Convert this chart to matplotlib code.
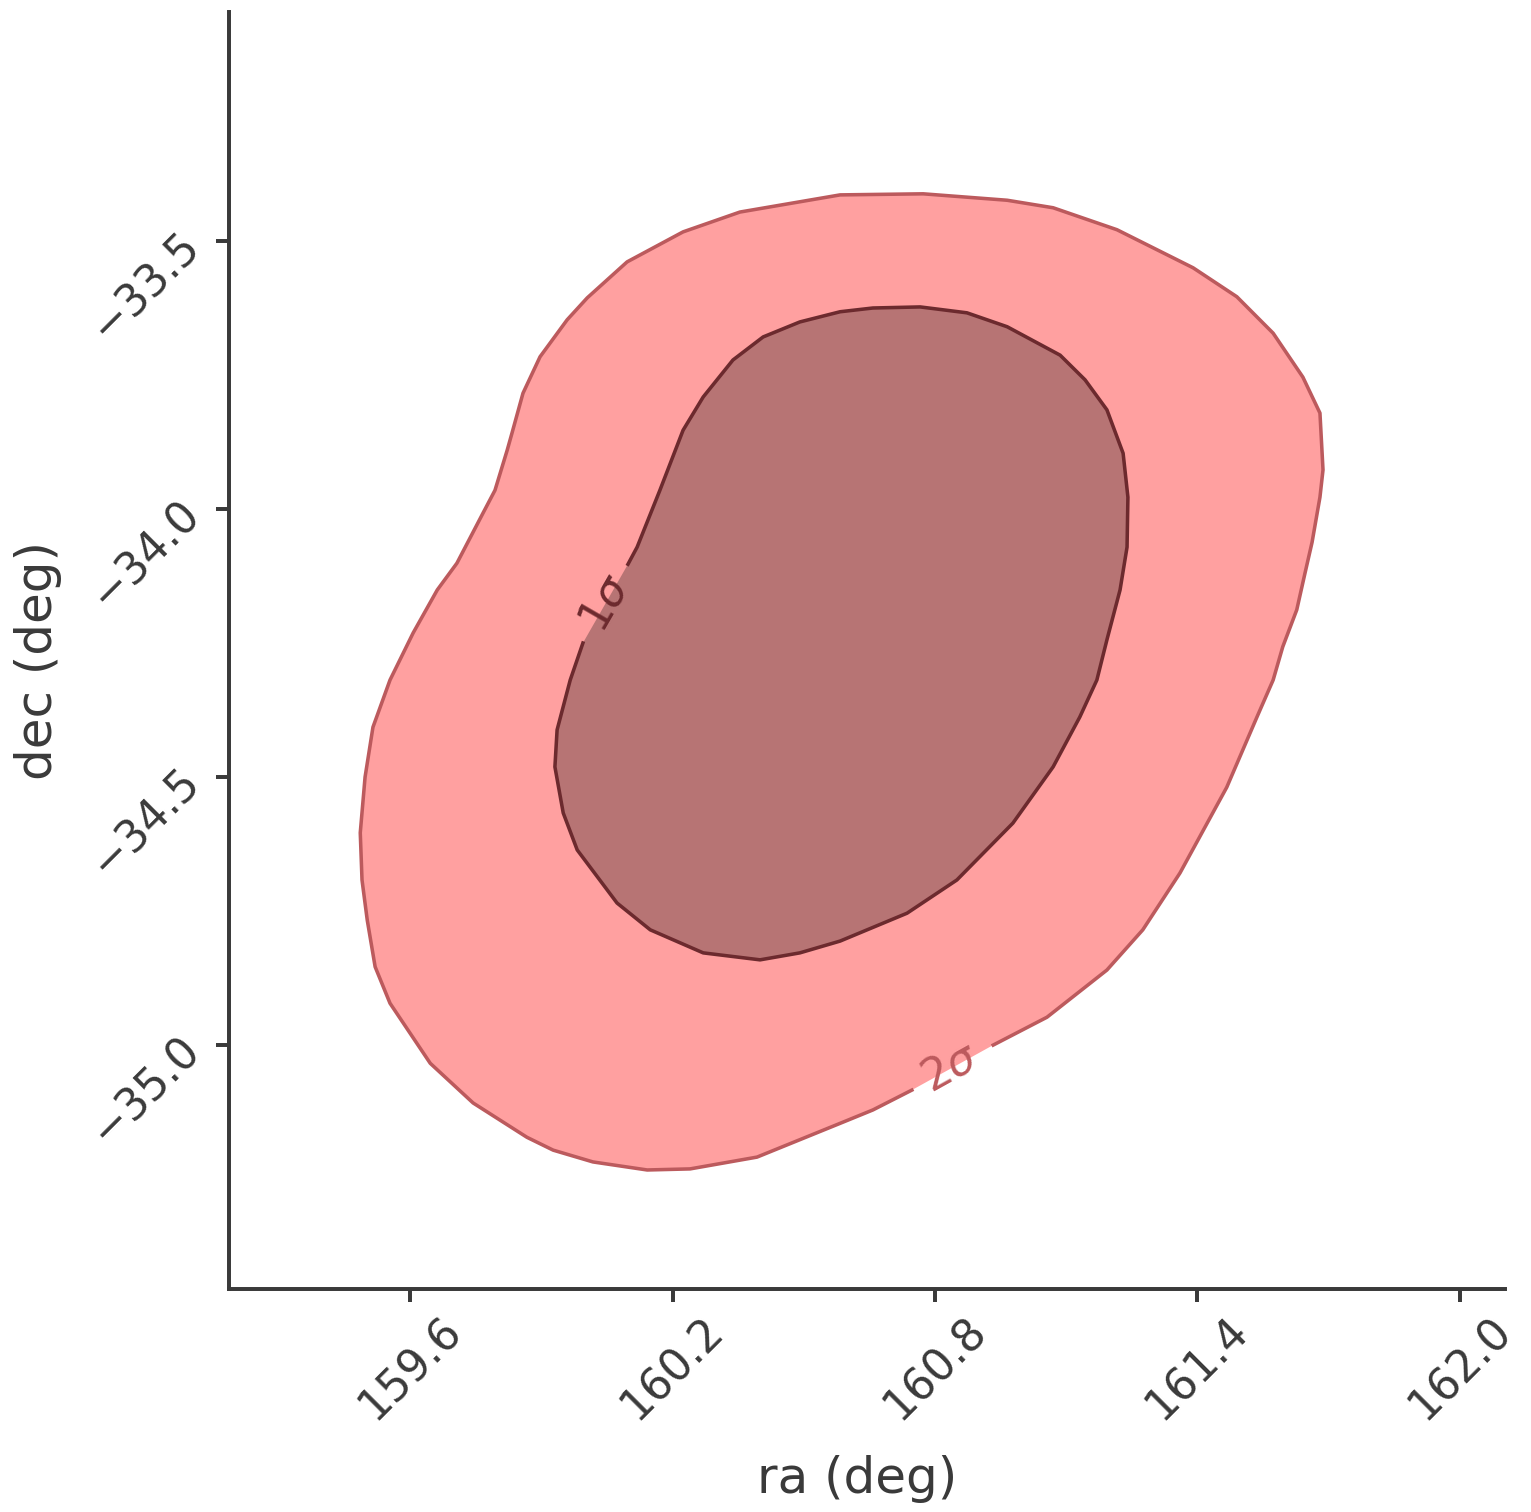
import numpy as np
import matplotlib.pyplot as plt

# 2 sigma contour outline (ra, dec in degrees), open at the label gap
ra_2sig = [160.933, 161.056, 161.193, 161.275, 161.360, 161.467, 161.536, 161.573,
           161.595, 161.627, 161.646, 161.662, 161.680, 161.687, 161.680, 161.641,
           161.573, 161.490, 161.390, 161.216, 161.070, 160.965, 160.773, 160.583,
           160.354, 160.224, 160.096, 160.005, 159.959, 159.897, 159.858, 159.833,
           159.822, 159.794, 159.767, 159.707, 159.662, 159.607, 159.554, 159.515,
           159.497, 159.486, 159.490, 159.502, 159.520, 159.554, 159.646, 159.744,
           159.867, 159.927, 160.018, 160.142, 160.240, 160.393, 160.583, 160.658,
           160.747]
dec_2sig = [-35.000, -34.948, -34.860, -34.785, -34.679, -34.519, -34.388, -34.319,
            -34.257, -34.188, -34.119, -34.062, -33.978, -33.927, -33.821, -33.754,
            -33.672, -33.604, -33.550, -33.479, -33.438, -33.424, -33.412, -33.414,
            -33.446, -33.483, -33.539, -33.606, -33.647, -33.716, -33.784, -33.858,
            -33.890, -33.965, -34.007, -34.101, -34.151, -34.231, -34.319, -34.407,
            -34.500, -34.604, -34.692, -34.767, -34.854, -34.922, -35.034, -35.108,
            -35.172, -35.196, -35.218, -35.233, -35.231, -35.209, -35.146, -35.121,
            -35.084]

# 1 sigma contour outline
ra_1sig = [160.098, 160.119, 160.171, 160.224, 160.270, 160.338, 160.407, 160.491,
           160.583, 160.658, 160.766, 160.873, 160.965, 161.086, 161.143, 161.193,
           161.230, 161.241, 161.239, 161.223, 161.193, 161.170, 161.131, 161.070,
           160.978, 160.850, 160.736, 160.583, 160.491, 160.400, 160.270, 160.149,
           160.073, 159.982, 159.950, 159.931, 159.936, 159.966, 159.995]
dec_1sig = [-34.103, -34.071, -33.965, -33.853, -33.791, -33.722, -33.679, -33.651,
            -33.632, -33.625, -33.623, -33.634, -33.660, -33.713, -33.759, -33.815,
            -33.896, -33.978, -34.071, -34.151, -34.244, -34.319, -34.388, -34.481,
            -34.586, -34.692, -34.754, -34.806, -34.828, -34.841, -34.828, -34.785,
            -34.735, -34.636, -34.567, -34.481, -34.412, -34.319, -34.250]

# inline contour labels: text, ra, dec, angle
labels = ['1$\\sigma$', '2$\\sigma$']
label_ra = [160.046, 160.834]
label_dec = [-34.175, -35.043]
label_rot = [60, 29]

xticks = [159.6, 160.2, 160.8, 161.4, 162.0]
yticks = [-35.0, -34.5, -34.0, -33.5]

txt = '#3a3a3a'
plt.rcParams['font.family'] = 'DejaVu Sans'
plt.rcParams['mathtext.fontset'] = 'dejavusans'

fig = plt.figure(figsize=(1531/150, 1512/150), dpi=150)
ax = fig.add_axes([0.1496, 0.1475, 0.9830-0.1496, 0.992-0.1475])

ax.fill(ra_2sig, dec_2sig, color='#ffa0a0', lw=0)
ax.plot(ra_2sig, dec_2sig, color='#bc5a5d', lw=1.7)
ax.fill(ra_1sig, dec_1sig, color='#b77474', lw=0)
ax.plot(ra_1sig, dec_1sig, color='#6c2a2e', lw=1.7)

for lab, x, y, r, c in zip(labels, label_ra, label_dec, label_rot, ['#6c2a2e', '#bc5a5d']):
    ax.text(x, y, lab, rotation=r, color=c, fontsize=21, ha='center', va='center')

ax.set_xlim(159.186, 162.103)
ax.set_ylim(-35.455, -33.073)
ax.set_xticks(xticks)
ax.set_yticks(yticks)
ax.set_xlabel('ra (deg)', fontsize=24, color=txt)
ax.set_ylabel('dec (deg)', fontsize=24, color=txt)
ax.xaxis.set_label_coords(0.4925, -0.13)
ax.yaxis.set_label_coords(-0.131, 0.492)

for s in ['top', 'right']:
    ax.spines[s].set_visible(False)
for s in ['left', 'bottom']:
    ax.spines[s].set_linewidth(1.9)
    ax.spines[s].set_color(txt)
ax.tick_params(length=6.3, width=1.9, color=txt, labelcolor=txt, labelsize=21,
               labelrotation=45)

plt.savefig('out.png', dpi=150)
